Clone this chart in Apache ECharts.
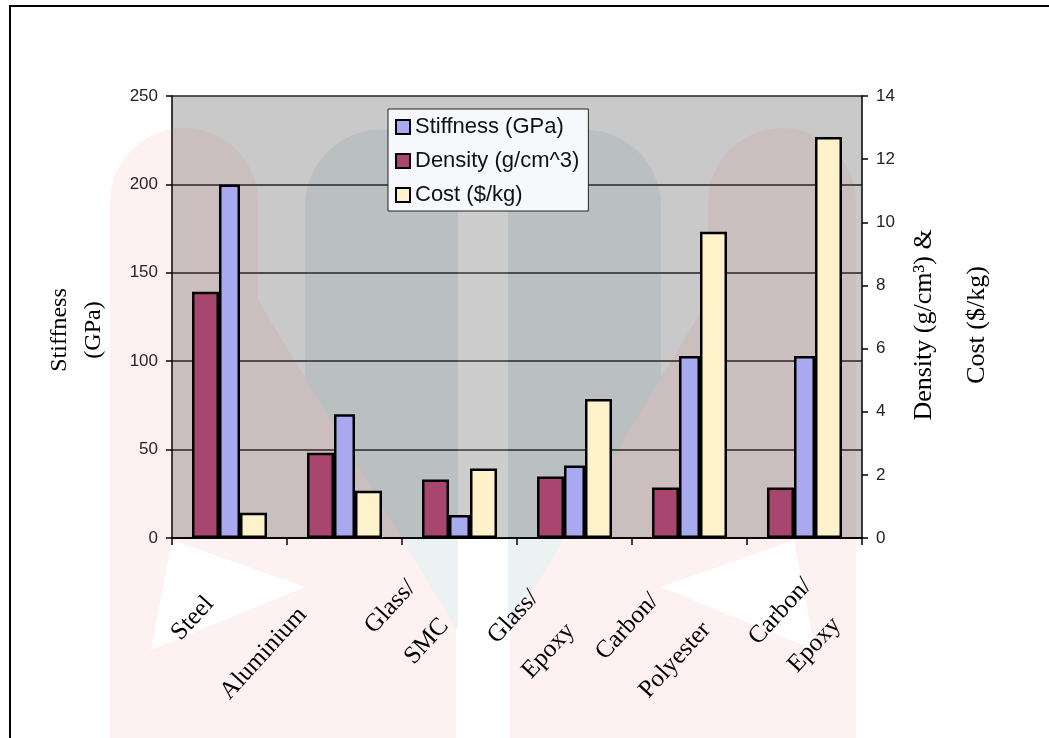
<!DOCTYPE html>
<html>
<head>
<meta charset="utf-8">
<script src="https://cdn.jsdelivr.net/npm/echarts@6/dist/echarts.min.js"></script>
<style>
  html, body { margin: 0; padding: 0; background: #ffffff; }
  #chart { width: 1049px; height: 738px; }
</style>
</head>
<body>
<div id="chart"></div>
<script>
// Materials compared
const categories = ['Steel', 'Aluminium', 'Glass/\nSMC', 'Glass/\nEpoxy', 'Carbon/\nPolyester', 'Carbon/\nEpoxy'];

// Series values
const stiffness = [200, 70, 13, 41, 103, 103];      // GPa (left axis)
const density   = [7.8, 2.7, 1.85, 1.95, 1.6, 1.6]; // g/cm^3 (right axis)
const cost      = [0.8, 1.5, 2.2, 4.4, 9.7, 12.7];  // $/kg (right axis)

// Axis tick ranges
const leftTicks  = { min: 0, max: 250, step: 50 };
const rightTicks = { min: 0, max: 14, step: 2 };

// Slanted category names: offset of each line's end point from its category
// centre on the x axis line, in pixels
const labelLineOffsets = [
  [[-20, 62]],
  [[-42, 73]],
  [[-48, 46], [-15, 84]],
  [[-40, 56], [-4, 89]],
  [[-35, 59], [17, 88]],
  [[3, 44], [32, 83]]
];
const LABEL_ANGLE = 47.5 * Math.PI / 180;

const chart = echarts.init(document.getElementById('chart'), null, { renderer: 'canvas' });

const barBorder = { borderColor: '#000000', borderWidth: 2.5 };

chart.setOption({
  animation: false,
  backgroundColor: '#ffffff',
  grid: {
    left: 172, right: 187, top: 96, bottom: 200,
    show: true, backgroundColor: '#c9c9c9', borderWidth: 0,
    containLabel: false, outerBoundsMode: 'none'
  },
  legend: {
    data: ['Stiffness (GPa)', 'Density (g/cm^3)', 'Cost ($/kg)'],
    orient: 'vertical',
    left: 388, top: 109,
    padding: [7, 9, 5, 7],
    itemWidth: 14, itemHeight: 14, itemGap: 12,
    icon: 'rect',
    backgroundColor: '#f6f8fb',
    borderColor: '#222222', borderWidth: 1,
    textStyle: { fontFamily: 'Liberation Sans', fontSize: 22, lineHeight: 22, color: '#111111' }
  },
  xAxis: {
    type: 'category',
    data: categories,
    boundaryGap: true,
    axisLine: { show: true, lineStyle: { color: '#000000', width: 2 } },
    axisTick: { show: true, length: 7, interval: 0, alignWithLabel: false, lineStyle: { color: '#000000', width: 1.5 } },
    axisLabel: { show: false },
    splitLine: { show: false }
  },
  yAxis: [
    {
      type: 'value', position: 'left',
      min: leftTicks.min, max: leftTicks.max, interval: leftTicks.step,
      name: 'Stiffness\n(GPa)', nameLocation: 'middle', nameRotate: 90, nameGap: 61, nameMoveOverlap: false,
      nameTextStyle: { fontFamily: 'Liberation Serif', fontSize: 24, lineHeight: 34, color: '#000000', padding: [0, 26, 0, 0] },
      axisLine: { show: true, lineStyle: { color: '#000000', width: 1.5 } },
      axisTick: { show: true, length: 6, lineStyle: { color: '#000000', width: 1.5 } },
      axisLabel: { margin: 14, fontFamily: 'Liberation Sans', fontSize: 17, color: '#222222', showMinLabel: true, showMaxLabel: true },
      splitLine: { show: true, lineStyle: { color: '#222222', width: 1.5 } }
    },
    {
      type: 'value', position: 'right',
      min: rightTicks.min, max: rightTicks.max, interval: rightTicks.step,
      name: 'Density (g/cm³) &\nCost ($/kg)', nameLocation: 'middle', nameRotate: 90, nameGap: 36, nameMoveOverlap: false,
      nameTextStyle: { fontFamily: 'Liberation Serif', fontSize: 26, lineHeight: 53, color: '#000000', padding: [0, 16, 0, 0] },
      axisLine: { show: true, lineStyle: { color: '#000000', width: 1.5 } },
      axisTick: { show: true, length: 6, lineStyle: { color: '#000000', width: 1.5 } },
      axisLabel: { margin: 14, fontFamily: 'Liberation Sans', fontSize: 17, color: '#222222', showMinLabel: true, showMaxLabel: true },
      splitLine: { show: false }
    }
  ],
  series: [
    {
      name: 'Density (g/cm^3)', type: 'bar', yAxisIndex: 1, data: density,
      barWidth: 27, itemStyle: Object.assign({ color: '#a8466f' }, barBorder)
    },
    {
      name: 'Stiffness (GPa)', type: 'bar', yAxisIndex: 0, data: stiffness,
      barWidth: 21, itemStyle: Object.assign({ color: '#a9a9f0' }, barBorder)
    },
    {
      name: 'Cost ($/kg)', type: 'bar', yAxisIndex: 1, data: cost,
      barWidth: 27, barGap: '0%', itemStyle: Object.assign({ color: '#fef2cb' }, barBorder)
    }
  ]
});

// ---- faint backdrop emblem (two rounded columns with diagonal bands, two pale pillars) ----
const MIRROR_X = 966;
function arcPoints(cx, cy, r, n) {
  const pts = [];
  for (let k = 0; k <= n; k++) {
    const a = Math.PI + (Math.PI * k) / n;
    pts.push([cx + r * Math.cos(a), cy + r * Math.sin(a)]);
  }
  return pts;
}
function mirror(pts) {
  return pts.map(p => [MIRROR_X - p[0], p[1]]);
}
// warm column + band, split in two pieces around the open notch below the axis
const warmUpper = [[110, 650], [110, 202]]
  .concat(arcPoints(184, 202, 74, 24))
  .concat([[258, 300], [402, 538], [456, 628], [305, 587], [172, 540], [151, 650]]);
const warmLower = [[110, 650], [151, 650], [305, 587], [456, 628], [456, 738], [110, 738]];
const coolPillar = [[305, 378], [305, 206]]
  .concat(arcPoints(381.5, 206, 76.5, 24))
  .concat([[458, 628], [456, 628]]);
const paleGap = [[458, 130], [508, 130], [508, 538], [458, 538]];

const WARM = 'rgba(235,40,40,0.065)';
const COOL = 'rgba(40,105,135,0.09)';
const PALE = 'rgba(255,255,255,0.09)';
const backdrop = [
  [warmUpper, WARM], [warmLower, WARM],
  [mirror(warmUpper), WARM], [mirror(warmLower), WARM],
  [coolPillar, COOL], [mirror(coolPillar), COOL],
  [paleGap, PALE]
].map(([pts, fill]) => ({
  type: 'polygon', silent: true, z: 1,
  shape: { points: pts },
  style: { fill: fill, stroke: null }
}));

// ---- slanted category names placed from the category axis scale ----
const axisY = chart.convertToPixel({ yAxisIndex: 0 }, 0);
const nameTexts = [];
categories.forEach((cat, i) => {
  const cx = chart.convertToPixel({ xAxisIndex: 0 }, i);
  cat.split('\n').forEach((line, j) => {
    const off = labelLineOffsets[i][j];
    nameTexts.push({
      type: 'text', silent: true, z: 5,
      x: cx + off[0], y: axisY + off[1],
      rotation: LABEL_ANGLE,
      style: {
        text: line, fill: '#000000',
        fontFamily: 'Liberation Serif', fontSize: 25,
        align: 'right', verticalAlign: 'middle'
      }
    });
  });
});

// ---- page frame ----
const frame = {
  type: 'polyline', silent: true, z: 100,
  shape: { points: [[10, 738], [10, 6], [1049, 6]] },
  style: { stroke: '#000000', lineWidth: 2, fill: null }
};

chart.setOption({ graphic: backdrop.concat(nameTexts, [frame]) });
</script>
</body>
</html>
